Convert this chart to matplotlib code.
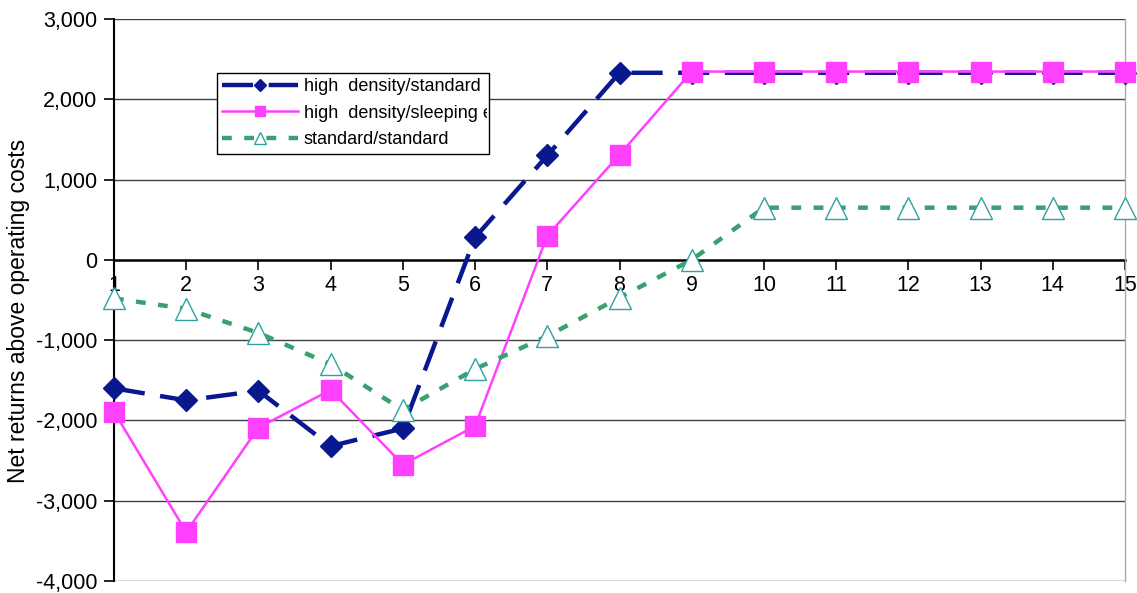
import matplotlib
matplotlib.use("Agg")
import matplotlib.pyplot as plt
from matplotlib.ticker import FuncFormatter, MultipleLocator
from matplotlib.transforms import Bbox, TransformedBbox

plt.rcParams['font.family'] = ['Liberation Sans', 'DejaVu Sans']

years = list(range(1, 16))
high_std = [-1600, -1750, -1630, -2320, -2100, 280, 1300, 2330,
            2330, 2330, 2330, 2330, 2330, 2330, 2330]
high_sleep = [-1890, -3390, -2090, -1620, -2550, -2070, 300, 1310,
              2345, 2345, 2345, 2345, 2345, 2345, 2345]
std_std = [-480, -610, -910, -1300, -1870, -1360, -950, -470,
           0, 650, 650, 650, 650, 650, 650]
labels = ["high  density/standard", "high  density/sleeping environment",
          "standard/standard"]

fig = plt.figure(figsize=(11.37, 5.93), dpi=100)
ax = fig.add_axes([114/1137, 1-581/593, (1125-114)/1137, (581-19)/593])

ax.set_xlim(1, 15)
ax.set_ylim(-4000, 3000)
ax.yaxis.set_major_locator(MultipleLocator(1000))
ax.yaxis.set_major_formatter(FuncFormatter(lambda v, p: f"{v:,.0f}"))
ax.set_xticks(years)

for v in range(-4000, 3001, 1000):
    if v != 0:
        ax.axhline(v, color='#404040', lw=1.0, zorder=1)

l1, = ax.plot(years, high_std, color='#0a188f', lw=3.2, dashes=(7, 3.5),
              marker='D', ms=11.5, mfc='#0a188f', mec='#0a188f',
              clip_on=False, zorder=3, label=labels[0])
l2, = ax.plot(years, high_sleep, color='#ff40ff', lw=1.8,
              marker='s', ms=14, mfc='#ff40ff', mec='#ff40ff',
              clip_on=False, zorder=4, label=labels[1])
l3, = ax.plot(years, std_std, color='#3aa070', lw=3.2, dashes=(2.2, 2.8),
              marker='^', ms=16, mfc='white', mec='#2ea3a3', mew=1.0,
              clip_on=False, zorder=5, label=labels[2])

ax.spines['top'].set_visible(False)
ax.spines['right'].set_color('#aaaaaa')
ax.spines['right'].set_linewidth(1.0)
ax.spines['left'].set_color('black')
ax.spines['left'].set_linewidth(1.5)
ax.spines['bottom'].set_position(('data', 0))
ax.spines['bottom'].set_color('black')
ax.spines['bottom'].set_linewidth(1.8)
ax.spines['bottom'].set_zorder(2)

ax.tick_params(axis='both', direction='out', length=7, width=1.2,
               labelsize=15.5, colors='black')
ax.tick_params(axis='x', pad=4)
ax.tick_params(axis='y', pad=5)
ax.set_ylabel("Net returns above operating costs", fontsize=16.5, labelpad=8)
ax.yaxis.set_label_coords(-0.083, 0.48)

lx0, lx1 = (217-114)/1011, (489-114)/1011
ly1, ly0 = (581-73)/562, (581-150)/562
leg = ax.legend(loc='upper left', mode='expand',
                bbox_to_anchor=(lx0, ly0, lx1-lx0, ly1-ly0),
                fontsize=13, frameon=True, fancybox=False, framealpha=1,
                edgecolor='black', handlelength=4.2, handletextpad=0.3,
                borderpad=0.3, labelspacing=0.52, borderaxespad=0)
leg.get_frame().set_linewidth(1.0)
leg.set_zorder(10)
clipbox = TransformedBbox(Bbox.from_extents(lx0, ly0 - 0.05, lx1 - 0.002, ly1), ax.transAxes)
for t in leg.get_texts():
    t.set_clip_box(clipbox)
    t.set_clip_on(True)
for h in leg.legend_handles:
    h.set_markersize(h.get_markersize() * 0.55)

fig.savefig("out.png", dpi=100)
